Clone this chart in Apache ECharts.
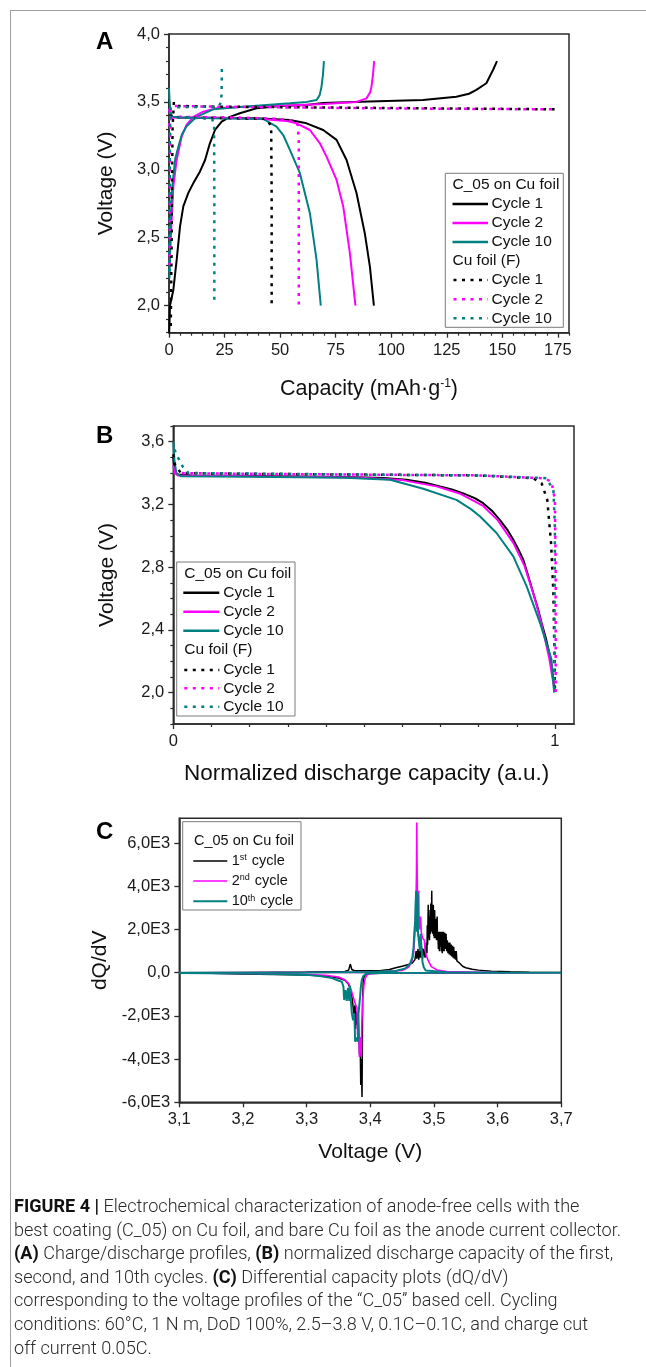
<!DOCTYPE html>
<html><head><meta charset="utf-8">
<script src="https://cdn.jsdelivr.net/npm/echarts@6/dist/echarts.min.js"></script>
<style>
html,body{margin:0;padding:0;background:#fff;}
#wrap{position:relative;width:646px;height:1367px;overflow:hidden;background:#fff;}
#chart{position:absolute;left:0;top:0;width:646px;height:1367px;}
#frame{position:absolute;left:10px;top:10px;width:650px;height:1400px;border-top:1.5px solid #a0a0a0;border-left:1.5px solid #a0a0a0;}
#caption{position:absolute;left:14px;top:1194px;font-family:"Roboto","Liberation Sans",Arial,sans-serif;font-weight:300;font-size:18px;color:#2a2a2a;transform-origin:0 0;}
#caption div{white-space:nowrap;height:23.6px;line-height:23.6px;width:max-content;}
#caption b{font-weight:700;color:#111;}
</style></head>
<body><div id="wrap">
<div id="frame"></div>
<div id="chart"></div>
<div id="caption">
<div><b>FIGURE 4 |</b> Electrochemical characterization of anode-free cells with the</div>
<div>best coating (C_05) on Cu foil, and bare Cu foil as the anode current collector.</div>
<div><b>(A)</b> Charge/discharge profiles, <b>(B)</b> normalized discharge capacity of the first,</div>
<div>second, and 10th cycles. <b>(C)</b> Differential capacity plots (dQ/dV)</div>
<div>corresponding to the voltage profiles of the “C_05” based cell. Cycling</div>
<div>conditions: 60°C, 1 N m, DoD 100%, 2.5–3.8 V, 0.1C–0.1C, and charge cut</div>
<div>off current 0.05C.</div>
</div>
</div>
<script>
// ---------------- tick values ----------------
const A_TICK_X = [0, 25, 50, 75, 100, 125, 150, 175];
const A_MINOR_X = [5,10,15,20,30,35,40,45,55,60,65,70,80,85,90,95,105,110,115,120,130,135,140,145,155,160,165,170,180];
const A_TICK_Y = [2.0, 2.5, 3.0, 3.5, 4.0];
const A_MINOR_Y = [1.8,1.9,2.1,2.2,2.3,2.4,2.6,2.7,2.8,2.9,3.1,3.2,3.3,3.4,3.6,3.7,3.8,3.9];
const B_TICK_X = [0, 1];
const B_MINOR_X = [0.1,0.2,0.3,0.4,0.5,0.6,0.7,0.8,0.9];
const B_TICK_Y = [2.0, 2.4, 2.8, 3.2, 3.6];
const B_MINOR_Y = [1.8,1.9,2.1,2.2,2.3,2.5,2.6,2.7,2.9,3.0,3.1,3.3,3.4,3.5,3.7];
const C_TICK_X = [3.1, 3.2, 3.3, 3.4, 3.5, 3.6, 3.7];
const C_TICK_Y = [-6000, -4000, -2000, 0, 2000, 4000, 6000];

// ---------------- legend labels ----------------
const LEG_HEAD_1 = 'C_05 on Cu foil';
const LEG_HEAD_2 = 'Cu foil (F)';
const LEG_CYCLES = ['Cycle 1', 'Cycle 2', 'Cycle 10'];
const LEG_C = ['1{s|st} cycle', '2{s|nd} cycle', '10{s|th} cycle'];
const COLORS = ['#000000', '#ff00ff', '#008080'];

// ---------------- Panel A: capacity (mAh/g) vs voltage ----------------
const A_C1_CH = [[0.1,1.8],[0.45,2.0],[1.95,2.115],[3.45,2.336],[4.94,2.58],[6.44,2.73],[8.7,2.83],[10.9,2.90],[13.9,2.986],[16.2,3.07],[18.4,3.195],[20.7,3.293],[23.7,3.354],[27.4,3.39],[31.9,3.416],[39.4,3.453],[49.9,3.47],[61.9,3.477],[69.4,3.492],[90,3.502],[114.3,3.514],[129.3,3.538],[135,3.56],[138.3,3.588],[142.8,3.637],[145.8,3.735],[147.6,3.80]];
const A_C1_DIS = [[0,3.52],[0.5,3.42],[1.5,3.39],[5,3.385],[20,3.383],[39.4,3.379],[54.4,3.367],[61.9,3.342],[69.4,3.293],[75.4,3.22],[79.9,3.072],[84.4,2.827],[88.1,2.533],[90.4,2.287],[92.2,2.0]];
const A_C2_CH = [[0.2,2.3],[1.2,2.63],[1.95,2.876],[3.45,3.072],[5.7,3.244],[7.9,3.33],[10.9,3.39],[15.4,3.428],[21.4,3.453],[31.9,3.462],[50,3.472],[70,3.485],[84.4,3.50],[88.9,3.526],[90.5,3.57],[91.1,3.61],[91.8,3.70],[92.3,3.80]];
const A_C2_DIS = [[0,3.45],[0.5,3.40],[1.5,3.385],[20,3.383],[40,3.375],[52.6,3.36],[57.4,3.342],[63.4,3.293],[67.9,3.195],[70.9,3.097],[75.4,2.925],[78.4,2.73],[81.4,2.386],[83.9,2.0]];
const A_C10_CH = [[0.2,2.2],[0.8,2.6],[1.3,2.85],[1.95,2.95],[2.8,3.08],[4.2,3.17],[5.8,3.26],[7.9,3.32],[12.4,3.39],[19.9,3.445],[31.9,3.462],[54.4,3.49],[62,3.50],[66.4,3.514],[67.8,3.55],[68.6,3.61],[69.3,3.70],[69.7,3.80]];
const A_C10_DIS = [[0,3.60],[0.4,3.45],[1.2,3.39],[5,3.385],[20,3.38],[42.4,3.374],[48.4,3.317],[51.4,3.256],[54.4,3.146],[58.9,2.975],[63.4,2.68],[66.4,2.336],[68.3,2.0]];
const A_F1_CH = [[0.8,1.85],[1.2,2.5],[1.4,3.0],[1.6,3.3],[2.2,3.5],[4,3.47],[20,3.465],[60,3.46],[100,3.455],[140,3.45],[174,3.445]];
const A_F1_DIS = [[0,3.40],[5,3.385],[30,3.38],[44,3.375],[45.6,3.33],[46,3.28],[46.2,2.8],[46.2,2.4],[46.2,2.0]];
const A_F2_CH = [[0.3,2.3],[0.4,2.8],[0.5,3.2],[0.7,3.45],[2,3.47],[20,3.465],[60,3.458],[100,3.452],[140,3.448],[174,3.445]];
const A_F2_DIS = [[0,3.32],[0.5,3.38],[5,3.39],[30,3.385],[50,3.375],[56,3.36],[58,3.33],[58.4,3.2],[58.4,2.0]];
const A_F10_CH = [[0.2,2.25],[0.3,2.8],[0.4,3.2],[0.6,3.45],[2,3.46],[10,3.462],[20,3.465],[22.5,3.47],[23.5,3.5],[23.7,3.6],[23.8,3.77]];
const A_F10_DIS = [[0,3.38],[5,3.385],[15,3.38],[19.5,3.37],[20.3,3.32],[20.4,2.8],[20.4,2.04]];

// ---------------- Panel B: normalized discharge capacity vs voltage ----------------
const B_C1 = [[0,3.50],[0.003,3.42],[0.01,3.39],[0.05,3.385],[0.218,3.382],[0.48,3.374],[0.55,3.368],[0.611,3.357],[0.66,3.338],[0.699,3.314],[0.73,3.295],[0.76,3.27],[0.79,3.24],[0.812,3.208],[0.835,3.16],[0.856,3.10],[0.875,3.04],[0.891,2.975],[0.905,2.91],[0.917,2.848],[0.93,2.745],[0.943,2.636],[0.955,2.54],[0.965,2.445],[0.977,2.34],[0.987,2.233],[0.995,2.10],[1.0,2.01]];
const B_C2 = [[0,3.45],[0.004,3.40],[0.012,3.385],[0.2,3.38],[0.48,3.372],[0.6,3.355],[0.69,3.315],[0.75,3.27],[0.812,3.19],[0.85,3.10],[0.891,2.955],[0.92,2.81],[0.945,2.62],[0.965,2.44],[0.985,2.22],[0.998,2.03]];
const B_C10 = [[0,3.60],[0.003,3.48],[0.008,3.40],[0.02,3.38],[0.2,3.377],[0.45,3.37],[0.568,3.357],[0.655,3.30],[0.742,3.229],[0.78,3.17],[0.804,3.123],[0.847,3.018],[0.891,2.869],[0.926,2.678],[0.961,2.445],[0.991,2.212],[0.998,2.0]];
const B_F1 = [[0,3.52],[0.005,3.45],[0.02,3.40],[0.2,3.395],[0.5,3.39],[0.8,3.385],[0.943,3.367],[0.965,3.335],[0.98,3.229],[0.99,2.95],[0.996,2.636],[0.999,2.2],[1.0,2.03]];
const B_F2 = [[0,3.40],[0.01,3.40],[0.2,3.395],[0.5,3.39],[0.8,3.385],[0.97,3.367],[0.991,3.345],[1.0,3.229],[1.002,2.8],[1.002,2.0]];
const B_F10 = [[0.003,3.55],[0.012,3.50],[0.025,3.44],[0.04,3.40],[0.2,3.397],[0.5,3.39],[0.8,3.385],[0.978,3.367],[0.996,3.29],[1.0,3.05],[0.999,2.5],[0.998,2.0]];

// ---------------- Panel C: dQ/dV vs voltage (charge branch, then discharge branch) ----------------
const C_C1 = [[3.10,0],[3.20,10],[3.30,30],[3.36,60],[3.366,120],[3.3685,400],[3.371,150],[3.375,90],[3.40,90],[3.415,95],[3.43,150],[3.44,230],[3.45,300],[3.46,380],[3.466,450],[3.47,600],[3.472,1000],[3.473,650],[3.475,1100],[3.476,600],[3.478,1100],[3.479,700],[3.481,1150],[3.482,650],[3.484,1100],[3.486,700],[3.488,1400],[3.489,900],[3.4895,2200],[3.490,1300],[3.491,3150],[3.4915,1600],[3.492,2600],[3.493,1500],[3.494,2900],[3.4945,1800],[3.495,3200],[3.496,1900],[3.4965,3790],[3.497,2100],[3.4975,3000],[3.498,1800],[3.499,3150],[3.4995,1700],[3.5,2800],[3.5005,1600],[3.501,2900],[3.502,1600],[3.503,2500],[3.504,1500],[3.505,2600],[3.5055,1500],[3.506,1900],[3.507,1100],[3.508,1900],[3.5085,1000],[3.509,1900],[3.510,1200],[3.511,1900],[3.5115,1000],[3.512,1900],[3.513,900],[3.514,1900],[3.5145,1000],[3.515,1900],[3.516,1000],[3.517,1850],[3.518,1100],[3.519,1800],[3.52,1000],[3.521,1500],[3.522,900],[3.523,1400],[3.524,850],[3.525,1400],[3.526,800],[3.527,1300],[3.528,750],[3.529,1250],[3.53,700],[3.531,1200],[3.532,650],[3.533,1000],[3.534,600],[3.535,1000],[3.536,550],[3.538,500],[3.54,450],[3.545,300],[3.55,230],[3.56,160],[3.57,120],[3.59,70],[3.62,40],[3.65,20],[3.70,5],
  [3.70,0],[3.60,-5],[3.50,-10],[3.45,-15],[3.42,-20],[3.40,-40],[3.392,-100],[3.389,-300],[3.388,-1200],[3.387,-5750],[3.386,-4000],[3.385,-5200],[3.384,-3000],[3.383,-3800],[3.382,-2800],[3.381,-1900],[3.379,-2400],[3.378,-1800],[3.377,-2600],[3.376,-1500],[3.374,-1900],[3.372,-1300],[3.37,-900],[3.368,-700],[3.365,-500],[3.36,-350],[3.35,-250],[3.33,-150],[3.30,-100],[3.25,-80],[3.20,-60],[3.15,-30],[3.10,-10]];
const C_C2 = [[3.10,0],[3.40,20],[3.45,100],[3.46,250],[3.465,500],[3.468,900],[3.470,1800],[3.4715,3000],[3.4725,4500],[3.473,6950],[3.4735,5000],[3.474,3800],[3.475,3000],[3.476,3800],[3.4765,2500],[3.478,2000],[3.479,2600],[3.480,1900],[3.482,1600],[3.485,1500],[3.486,1050],[3.488,800],[3.4905,590],[3.4958,280],[3.505,125],[3.52,50],[3.60,5],[3.70,0],
  [3.70,0],[3.50,-5],[3.42,-15],[3.40,-40],[3.395,-100],[3.392,-250],[3.39,-600],[3.388,-1260],[3.3865,-2500],[3.386,-3900],[3.385,-3850],[3.384,-3000],[3.383,-3900],[3.382,-2800],[3.381,-2000],[3.38,-2900],[3.379,-1600],[3.377,-1500],[3.375,-1300],[3.373,-1100],[3.37,-800],[3.366,-500],[3.36,-330],[3.35,-200],[3.33,-120],[3.30,-80],[3.25,-50],[3.20,-30],[3.10,-10]];
const C_C10 = [[3.10,0],[3.30,10],[3.40,30],[3.44,80],[3.455,200],[3.462,400],[3.466,700],[3.468,1200],[3.469,1800],[3.4705,2400],[3.471,3100],[3.472,3790],[3.4725,3000],[3.473,1900],[3.474,1850],[3.4745,3700],[3.475,1800],[3.477,1800],[3.478,1000],[3.479,1800],[3.480,1750],[3.481,900],[3.482,500],[3.484,250],[3.487,100],[3.49,50],[3.52,20],[3.60,5],[3.70,0],
  [3.70,0],[3.50,-5],[3.42,-10],[3.40,-20],[3.394,-40],[3.389,-150],[3.3866,-340],[3.385,-700],[3.384,-1110],[3.3815,-1880],[3.3804,-3195],[3.378,-3000],[3.3762,-3195],[3.375,-1880],[3.373,-2200],[3.371,-1880],[3.3694,-1265],[3.368,-600],[3.367,-1300],[3.365,-700],[3.363,-1300],[3.361,-800],[3.359,-1265],[3.3578,-648],[3.3553,-415],[3.3474,-338],[3.34,-250],[3.32,-150],[3.30,-100],[3.25,-60],[3.20,-40],[3.10,-10]];

// ---------------- helpers ----------------
const FONT = '"Liberation Sans", Arial, Helvetica, sans-serif';
const AX = '#2b2b2b';
const fmtComma = v => v.toFixed(1).replace('.', ',');
const fmtE3 = v => v === 0 ? '0,0' : (v / 1000).toFixed(1).replace('.', ',') + 'E3';

function mainAxis(pos, grid, min, max, ticks, fmt, name, gap, extra) {
  return Object.assign({
    type: 'value', gridIndex: grid, position: pos, min, max,
    axisLine: { show: true, onZero: false, lineStyle: { color: AX, width: 1.5 } },
    axisTick: { show: true, inside: false, length: 5, customValues: ticks, lineStyle: { color: AX, width: 1.3 } },
    axisLabel: { show: true, customValues: ticks, formatter: fmt, fontSize: 16.5, fontFamily: FONT, color: '#1a1a1a', margin: 9 },
    splitLine: { show: false },
    name, nameLocation: 'middle', nameGap: gap,
    nameTextStyle: { fontSize: 21, fontFamily: FONT, color: '#111' }
  }, extra || {});
}
function minorAxis(pos, grid, min, max, ticks) {
  return {
    type: 'value', gridIndex: grid, position: pos, min, max, offset: 0,
    axisLine: { show: false, onZero: false },
    axisTick: { show: true, inside: false, length: 3, customValues: ticks, lineStyle: { color: AX, width: 1.2 } },
    axisLabel: { show: false }, splitLine: { show: false }
  };
}
function ln(data, ci, width, dotted, xi, yi) {
  return {
    type: 'line', data, xAxisIndex: xi, yAxisIndex: yi, symbol: 'none', showSymbol: false,
    lineStyle: { color: COLORS[ci], width, type: dotted ? [3, 5.5] : 'solid', cap: 'butt' },
    itemStyle: { color: COLORS[ci] }, silent: true, animation: false, clip: true
  };
}
function txt(x, y, text, size, extra) {
  return { type: 'text', x, y, silent: true, z: 100,
    style: Object.assign({ text, font: size + 'px ' + FONT, fill: '#111', verticalAlign: 'middle', align: 'left' }, extra || {}) };
}
function legendBox(x, y, w, h) {
  return { type: 'rect', silent: true, z: 99, shape: { x, y, width: w, height: h },
    style: { fill: '#fff', stroke: '#7a7a7a', lineWidth: 1 } };
}
function sample(x1, x2, y, ci, dotted, width) {
  return { type: 'line', silent: true, z: 100, shape: { x1, y1: y, x2, y2: y },
    style: { stroke: COLORS[ci], lineWidth: width, lineDash: dotted ? [3, 5.5] : null } };
}
function abLegend(bx, by, bw, bh, rows, tx0, lx1, lx2, tx1, fs) {
  const g = [legendBox(bx, by, bw, bh)];
  g.push(txt(tx0, rows[0], LEG_HEAD_1, fs));
  for (let i = 0; i < 3; i++) { g.push(sample(lx1, lx2, rows[1 + i], i, false, 2.5)); g.push(txt(tx1, rows[1 + i], LEG_CYCLES[i], fs)); }
  g.push(txt(tx0, rows[4], LEG_HEAD_2, fs));
  for (let i = 0; i < 3; i++) { g.push(sample(lx1 + 1, lx2, rows[5 + i], i, true, 2.5)); g.push(txt(tx1, rows[5 + i], LEG_CYCLES[i], fs)); }
  return g;
}

const chart = echarts.init(document.getElementById('chart'), null, { renderer: 'canvas' });
const graphic = [].concat(
  [txt(96, 42, 'A', 24, { font: 'bold 24px ' + FONT, fill: '#000' }),
   txt(96, 436, 'B', 24, { font: 'bold 24px ' + FONT, fill: '#000' }),
   txt(96, 832, 'C', 24, { font: 'bold 24px ' + FONT, fill: '#000' })],
  abLegend(445.3, 173.3, 118, 154, [185, 204, 223, 242, 261, 280, 299.3, 318.3], 452.5, 452.5, 488, 491.5, 15.5),
  abLegend(176.7, 562, 118.3, 154, [573.3, 592.7, 611.7, 630.7, 650, 670, 688.3, 706.7], 184.3, 183.3, 219.3, 223.3, 15.5),
  [legendBox(182.7, 821.7, 118.3, 88.3), txt(194, 841, LEG_HEAD_1, 14.5)],
  [0, 1, 2].map(i => sample(193.3, 227.3, [861, 881, 901.3][i], i, false, i === 2 ? 2 : 1.6)),
  [0, 1, 2].map(i => ({ type: 'text', x: 231.7, y: [861, 881, 901.3][i], silent: true, z: 100,
    style: { text: LEG_C[i], font: '14.5px ' + FONT, fill: '#111', verticalAlign: 'middle', align: 'left',
      rich: { s: { fontSize: 9, fontFamily: FONT, verticalAlign: 'top', padding: [0, 1, 6, 0] } } } }))
);

const option = {
  animation: false,
  backgroundColor: 'transparent',
  grid: [
    { left: 169, top: 34, width: 400, height: 298.7, show: true, borderColor: AX, borderWidth: 1.5, backgroundColor: 'transparent' },
    { left: 173.3, top: 426, width: 400.7, height: 298, show: true, borderColor: AX, borderWidth: 1.5, backgroundColor: 'transparent' },
    { left: 179.3, top: 818.3, width: 382, height: 284, show: true, borderColor: AX, borderWidth: 1.5, backgroundColor: 'transparent' }
  ],
  xAxis: [
    mainAxis('bottom', 0, 0, 180, A_TICK_X, v => String(v), 'Capacity (mAh·g{sup|-1})', 45,
      { nameTextStyle: { fontSize: 21.5, fontFamily: FONT, color: '#111', rich: { sup: { fontSize: 12, fontFamily: FONT, verticalAlign: 'top', padding: [0, 0, 10, 0] } } } }),
    minorAxis('bottom', 0, 0, 180, A_MINOR_X),
    mainAxis('bottom', 1, 0, 1.05, B_TICK_X, v => String(v), 'Normalized discharge capacity (a.u.)', 38,
      { nameTextStyle: { fontSize: 22.5, fontFamily: FONT, color: '#111', padding: [0, 14, 0, 0] } }),
    minorAxis('bottom', 1, 0, 1.05, B_MINOR_X),
    mainAxis('bottom', 2, 3.1, 3.7, C_TICK_X, fmtComma, 'Voltage (V)', 39)
  ],
  yAxis: [
    mainAxis('left', 0, 1.8, 4.0, A_TICK_Y, fmtComma, 'Voltage (V)', 52),
    minorAxis('left', 0, 1.8, 4.0, A_MINOR_Y),
    mainAxis('left', 1, 1.8, 3.7, B_TICK_Y, fmtComma, 'Voltage (V)', 56),
    minorAxis('left', 1, 1.8, 3.7, B_MINOR_Y),
    mainAxis('left', 2, -6000, 7150, C_TICK_Y, fmtE3, 'dQ/dV', 64)
  ],
  series: [
    ln(A_C1_CH, 0, 2, false, 0, 0), ln(A_C1_DIS, 0, 2, false, 0, 0),
    ln(A_C2_CH, 1, 2, false, 0, 0), ln(A_C2_DIS, 1, 2, false, 0, 0),
    ln(A_C10_CH, 2, 2, false, 0, 0), ln(A_C10_DIS, 2, 2, false, 0, 0),
    ln(A_F1_CH, 0, 2.5, true, 0, 0), ln(A_F1_DIS, 0, 2.5, true, 0, 0),
    ln(A_F2_CH, 1, 2.5, true, 0, 0), ln(A_F2_DIS, 1, 2.5, true, 0, 0),
    ln(A_F10_CH, 2, 2.5, true, 0, 0), ln(A_F10_DIS, 2, 2.5, true, 0, 0),
    ln(B_C1, 0, 2, false, 2, 2), ln(B_C2, 1, 2, false, 2, 2), ln(B_C10, 2, 2, false, 2, 2),
    ln(B_F1, 0, 2.5, true, 2, 2), ln(B_F2, 1, 2.5, true, 2, 2), ln(B_F10, 2, 2.5, true, 2, 2),
    ln(C_C1, 0, 1.5, false, 4, 4), ln(C_C2, 1, 1.6, false, 4, 4), ln(C_C10, 2, 2, false, 4, 4)
  ],
  graphic
};
chart.setOption(option);

// fit caption width to the reference line length
const cap = document.getElementById('caption');
const w2 = cap.children[1].getBoundingClientRect().width;
cap.style.transform = 'scaleX(' + (607 / w2) + ')';
</script>
</body></html>
